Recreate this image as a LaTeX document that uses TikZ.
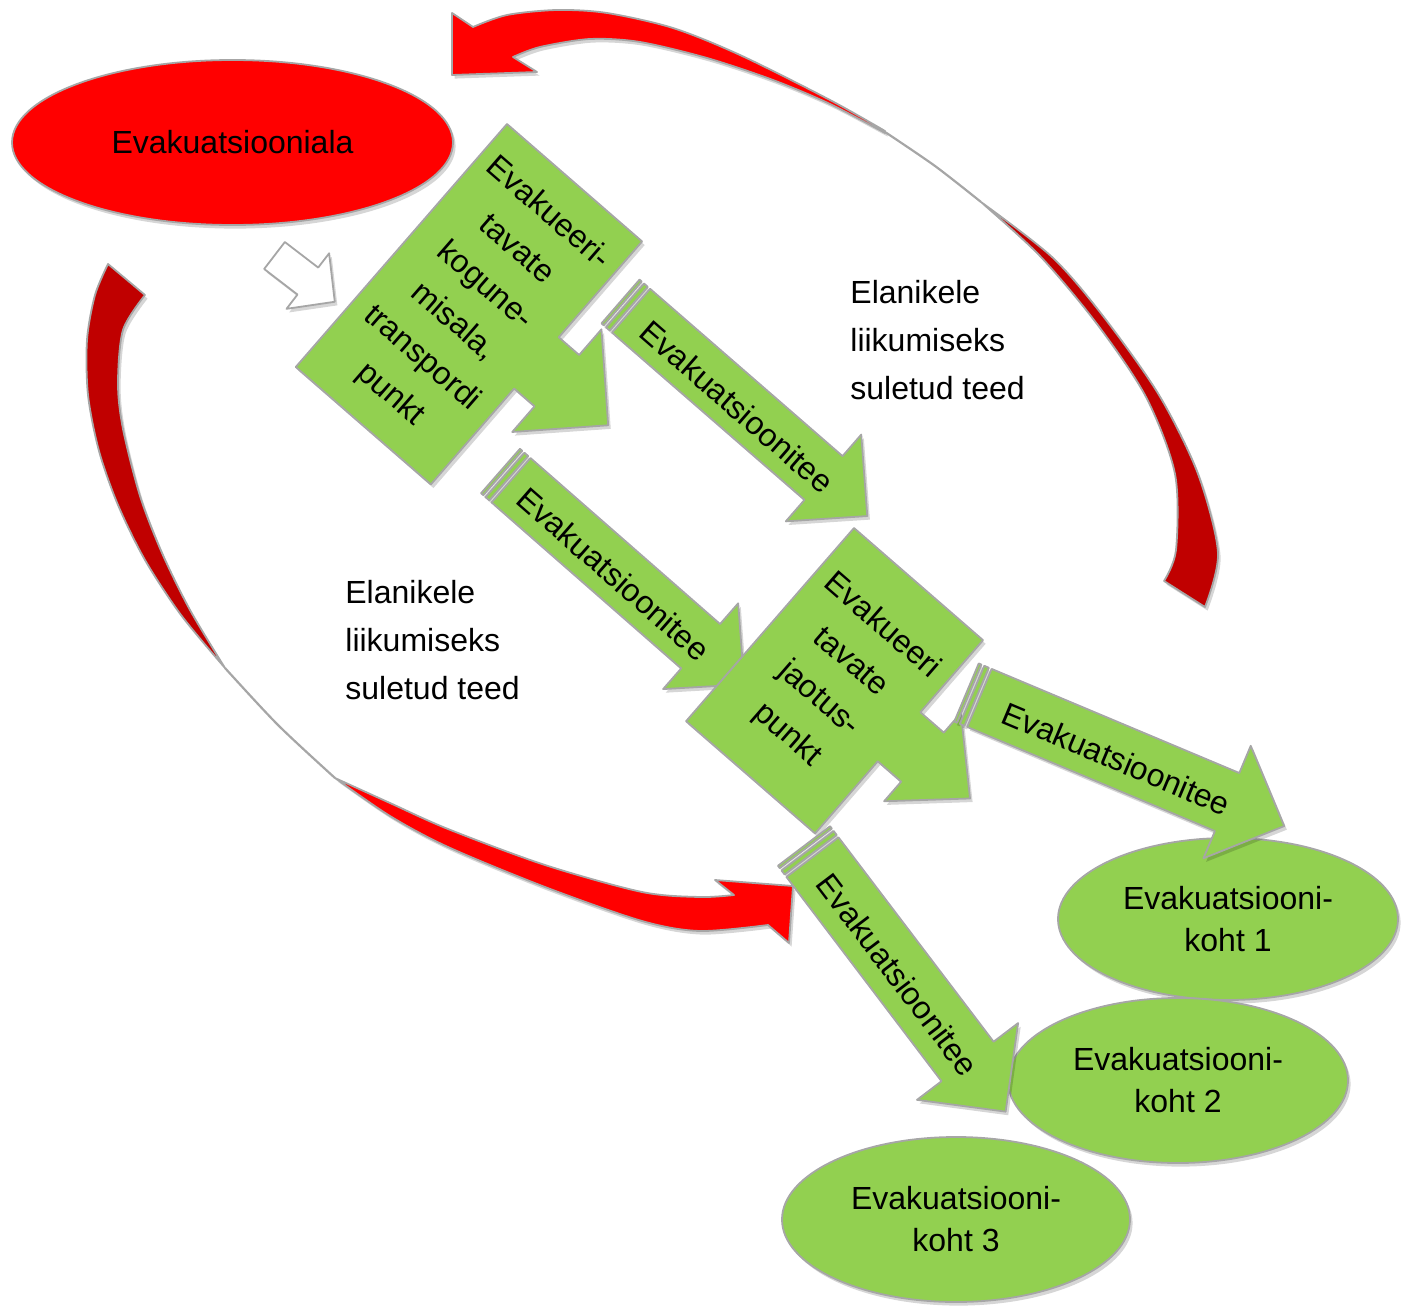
\documentclass[tikz,border=0pt]{standalone}
\usepackage{fontspec}
\setmainfont{Liberation Sans}
\usetikzlibrary{shapes.geometric}
\definecolor{grn}{HTML}{92D050}
\definecolor{rd}{HTML}{FF0000}
\definecolor{drd}{HTML}{C00000}
\definecolor{edgec}{HTML}{A6A6A6}
\tikzset{
 softshadow/.style={preaction={draw=none, fill=black, fill opacity=0.16, transform canvas={shift={(1.3pt,-1.8pt)}}}},
 shapeline/.style={draw=edgec, line width=0.9pt, line join=round},
 greenfill/.style={softshadow, shapeline, fill=grn},
 redfill/.style={softshadow, shapeline, fill=rd},
 darkfill/.style={softshadow, shapeline, fill=drd},
 whitefill/.style={softshadow, shapeline, fill=white},
 thinline/.style={draw=edgec, line width=1.1pt},
 lbl/.style={font=\fontsize{16}{24}\selectfont, inner sep=0pt, text=black},
 elltxt/.style={ellipse, font=\fontsize{16}{21}\selectfont, align=center, inner sep=0pt, softshadow, shapeline},
}
% block arrow: x y angle L w h hl style
\newcommand\blockarrow[8]{%
 \path[#8,shift={(#1,#2)},rotate=-#3] (0,-#5) -- ({#4-#7},-#5) -- ({#4-#7},-#6) -- (#4,0) -- ({#4-#7},#6) -- ({#4-#7},#5) -- (0,#5) -- cycle;}
% striped arrow: x y angle L w h hl textpos name
\newcommand\stripearrow[9]{%
 \begin{scope}[shift={(#1,#2)},rotate=-#3]
  \path[greenfill] (0,-#5) -- (3,-#5) -- (3,#5) -- (0,#5) -- cycle;
  \path[greenfill] (6,-#5) -- (11,-#5) -- (11,#5) -- (6,#5) -- cycle;
  \path[greenfill] (14,-#5) -- ({#4-#7},-#5) -- ({#4-#7},-#6) -- (#4,0) -- ({#4-#7},#6) -- ({#4-#7},#5) -- (14,#5) -- cycle;
  \node[lbl,rotate=-#3] (#9) at (#8,3) {Evakuatsioonitee};
 \end{scope}}
\begin{document}
\begin{tikzpicture}[x=0.5pt,y=-0.5pt]
\useasboundingbox (0,0) rectangle (1409,1306);

% ---- top curved red arrow ----
\path[redfill] (473,27) -- (452,13) -- (452,75) -- (537,72) -- (513,57)
  -- plot[smooth] coordinates {(513,57) (540,47) (590,39) (640,42) (707,58) (773,80) (830,104) (885,133)}
  -- plot[smooth] coordinates {(885,131) (830,100) (740,55) (673,28) (607,13) (557,10) (507,15) (473,27)} -- cycle;
\draw[thinline] plot[smooth] coordinates {(885,132) (935,166) (981,202)};
\path[darkfill] plot[smooth] coordinates {(981,202) (1052,257) (1103,316) (1159,395) (1198,474) (1218,553) (1205,607)}
  -- (1164,581)
  -- plot[smooth] coordinates {(1164,581) (1176,550) (1175,474) (1146,397) (1097,324) (1040,256) (981,202)} -- cycle;

% ---- lower-left curved red arrow ----
\path[darkfill] plot[smooth] coordinates {(225,668) (181,615) (145,560) (118,505) (99,451) (88,395) (87,340) (95,295) (108,264)}
  -- (145,295)
  -- plot[smooth] coordinates {(145,295) (123,330) (118,384) (123,429) (140,496) (162,553) (190,610) (225,668)} -- cycle;
\draw[thinline] plot[smooth] coordinates {(225,668) (278,725) (335,778)};
\path[redfill] (734,895) -- (715,880) -- (793,886) -- (789,943) -- (768,925)
  -- plot[smooth] coordinates {(768,925) (700,931) (642,921) (545,887) (448,847) (390,816) (335,778)}
  -- plot[smooth] coordinates {(335,778) (390,803) (448,829) (545,865) (642,892) (700,897) (734,895)} -- cycle;

% ---- evacuation area ----
\node[elltxt, fill=rd, minimum width=220.5pt, minimum height=82.5pt] (area) at (232.5,142.5) {Evakuatsiooniala};

% ---- white arrow ----
\blockarrow{274.5}{255.5}{37.5}{76}{17}{35}{34}{whitefill}

% ---- gathering point callout ----
\begin{scope}[shift={(507,124)},rotate=-41]
 \path[greenfill] (0,0) -- (179,0) -- (179,127) -- (206,127) -- (206,93) -- (274,161) -- (206,229) -- (206,195) -- (179,195) -- (179,322) -- (0,322) -- cycle;
 \node[lbl,rotate=-41,align=center] (gather) at (89.5,161) {Evakueeri-\\tavate\\kogune-\\misala,\\transpordi\\punkt};
\end{scope}

% ---- roads A and B ----
\stripearrow{620.5}{301.5}{41}{327}{29}{57.5}{58}{157}{roadA}
\stripearrow{500.5}{471}{41.2}{324}{29.5}{57}{58}{153}{roadB}

% ---- distribution point callout ----
\begin{scope}[shift={(854,528)},rotate=-41]
 \path[greenfill] (0,0) -- (171,0) -- (171,95.5) -- (202,95.5) -- (202,69.5) -- (265,128) -- (202,186.5) -- (202,160.5) -- (171,160.5) -- (171,256) -- (0,256) -- cycle;
 \node[lbl,rotate=-41,align=center] (distr) at (85.5,128) {Evakueeri\\tavate\\jaotus-\\punkt};
\end{scope}

% ---- evacuation places ----
\node[elltxt, fill=grn, minimum width=170pt, minimum height=81pt] (k1) at (1228,919) {Evakuatsiooni-\\koht 1};
\node[elltxt, fill=grn, minimum width=170pt, minimum height=82.5pt] (k2) at (1178,1080.5) {Evakuatsiooni-\\koht 2};
\node[elltxt, fill=grn, minimum width=174pt, minimum height=82.5pt] (k3) at (956,1219.5) {Evakuatsiooni-\\koht 3};

% ---- roads C and D ----
\stripearrow{966.5}{692.5}{22.8}{344.7}{31.5}{61}{62}{164}{roadC}
\stripearrow{804}{846}{52.8}{333.5}{32.7}{63.5}{63}{159}{roadD}

% ---- closed roads texts ----
\node[lbl, align=left, anchor=west] (closedA) at (850,340) {Elanikele\\liikumiseks\\suletud teed};
\node[lbl, align=left, anchor=west] (closedB) at (345,640) {Elanikele\\liikumiseks\\suletud teed};
\end{tikzpicture}
\end{document}
